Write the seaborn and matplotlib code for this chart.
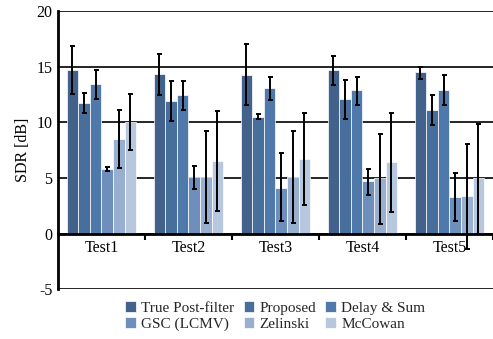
import matplotlib
matplotlib.use("Agg")
import matplotlib.pyplot as plt
import seaborn as sns
import pandas as pd
import numpy as np
from matplotlib.ticker import FixedLocator

tests = ["Test1", "Test2", "Test3", "Test4", "Test5"]
methods = ["True Post-filter", "Proposed", "Delay & Sum", "GSC (LCMV)", "Zelinski", "McCowan"]
colors = ["#42628b", "#486e9b", "#4f79ab", "#6e8fbb", "#98afd0", "#b7c7de"]

# mean SDR per test for each method
true_pf = [14.7, 14.3, 14.2, 14.65, 14.5]
proposed = [11.7, 11.9, 10.5, 12.1, 11.1]
delay_sum = [13.4, 12.4, 13.1, 12.85, 12.85]
gsc = [5.8, 5.1, 4.1, 4.7, 3.3]
zelinski = [8.5, 5.1, 5.1, 4.95, 3.35]
mccowan = [10.0, 6.5, 6.7, 6.4, 5.0]

# error bar lower / upper limits
true_pf_lo = [12.5, 12.4, 11.5, 13.3, 13.9]
true_pf_hi = [16.8, 16.1, 17.0, 15.9, 14.95]
proposed_lo = [10.8, 10.1, 10.3, 10.3, 9.75]
proposed_hi = [12.6, 13.7, 10.75, 13.8, 12.4]
delay_sum_lo = [12.1, 11.1, 12.0, 11.5, 11.5]
delay_sum_hi = [14.7, 13.7, 14.1, 14.1, 14.2]
gsc_lo = [5.6, 4.0, 1.15, 3.5, 1.15]
gsc_hi = [6.0, 6.1, 7.2, 5.8, 5.4]
zelinski_lo = [5.9, 0.9, 0.96, 0.85, -1.4]
zelinski_hi = [11.1, 9.2, 9.2, 8.95, 8.0]
mccowan_lo = [7.5, 2.0, 2.6, 1.9, 0.0]
mccowan_hi = [12.5, 11.0, 10.8, 10.8, 9.8]

means = [true_pf, proposed, delay_sum, gsc, zelinski, mccowan]
los = [true_pf_lo, proposed_lo, delay_sum_lo, gsc_lo, zelinski_lo, mccowan_lo]
his = [true_pf_hi, proposed_hi, delay_sum_hi, gsc_hi, zelinski_hi, mccowan_hi]

rows = []
for m, vals, lo, hi in zip(methods, means, los, his):
    for t, v, l, h in zip(tests, vals, lo, hi):
        rows.append({"test": t, "method": m, "sdr": v, "lo": l, "hi": h})
df = pd.DataFrame(rows)

sns.set_theme(style="white")
plt.rcParams["font.family"] = ["Liberation Serif", "DejaVu Serif"]
plt.rcParams["axes.unicode_minus"] = False

fig = plt.figure(figsize=(4.93, 3.39), dpi=100)
ax = fig.add_axes([0.1176, 0.147, 0.882, 0.821])

sns.barplot(data=df, x="test", y="sdr", hue="method", order=tests, hue_order=methods,
            palette=colors, errorbar=None, width=0.8, saturation=1,
            edgecolor="white", linewidth=0.5, ax=ax, zorder=3)

# error bars at the bar centres
for container, m in zip(ax.containers, methods):
    sub = df[df["method"] == m].set_index("test").loc[tests]
    xs = [p.get_x() + p.get_width() / 2 for p in container.patches]
    ys = sub["sdr"].values
    yerr = np.vstack([ys - sub["lo"].values, sub["hi"].values - ys])
    ax.errorbar(xs, ys, yerr=yerr, fmt="none", ecolor="black", elinewidth=1.4,
                capsize=1.8, capthick=1.4, zorder=4)

ax.set_ylim(-5, 20)
ax.set_xlim(-0.5, 4.5)
ax.set_yticks([-5, 0, 5, 10, 15, 20])
ax.yaxis.grid(True, color="black", linewidth=1.2, zorder=0)
ax.set_axisbelow(True)

for s in ["top", "right"]:
    ax.spines[s].set_visible(False)
ax.spines["bottom"].set_position(("data", 0))
ax.spines["bottom"].set_linewidth(2.0)
ax.spines["bottom"].set_color("black")
ax.spines["bottom"].set_zorder(5)
ax.spines["left"].set_linewidth(2.0)
ax.spines["left"].set_color("black")

ax.xaxis.set_minor_locator(FixedLocator([0.5, 1.5, 2.5, 3.5, 4.5]))
ax.tick_params(axis="x", which="major", length=0, pad=5, labelsize=11.5, colors="black")
ax.tick_params(axis="x", which="minor", length=4, width=1.5, direction="out", color="black", bottom=True)
ax.tick_params(axis="y", length=0, pad=4, labelsize=11.5, colors="black")
ax.set_xlabel("")
ax.set_ylabel("SDR [dB]", fontsize=11.5, color="black", labelpad=4)

handles, labels = ax.get_legend_handles_labels()
# row-wise fill for a 3-column legend
order = [0, 3, 1, 4, 2, 5]
ax.legend([handles[i] for i in order], [labels[i] for i in order],
          loc="upper center", bbox_to_anchor=(0.5, -0.005), ncol=3,
          frameon=False, fontsize=11, handlelength=0.7, handleheight=0.7,
          handletextpad=0.35, columnspacing=0.6, labelspacing=0.15, borderpad=0.2)

fig.savefig("out.png", dpi=100)
